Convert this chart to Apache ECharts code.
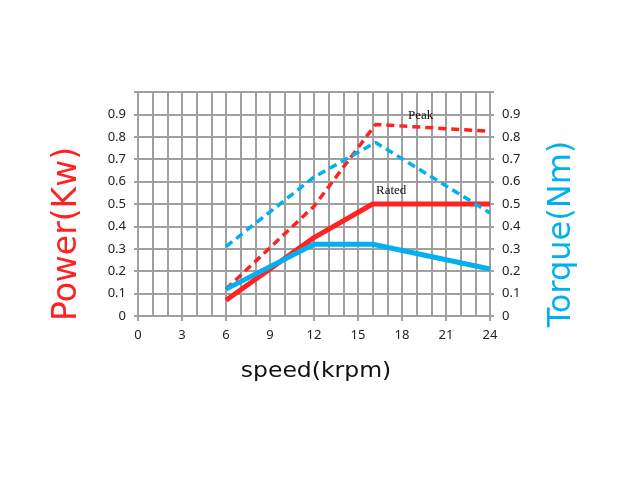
<!DOCTYPE html>
<html>
<head>
<meta charset="utf-8">
<script src="https://cdn.jsdelivr.net/npm/echarts@6/dist/echarts.min.js"></script>
<style>html,body{margin:0;padding:0;background:#fff}#c{width:636px;height:490px}</style>
</head>
<body>
<div id="c"></div>
<script>
const ratedSpeed = [6, 12, 16, 24];
const ratedPower = [0.07, 0.35, 0.50, 0.50];
const ratedTorque = [0.12, 0.32, 0.32, 0.21];
const peakSpeed = [6, 12, 16.2, 24];
const peakPower = [0.12, 0.49, 0.855, 0.825];
const peakTorque = [0.31, 0.62, 0.775, 0.46];
const xTicks = [0, 3, 6, 9, 12, 15, 18, 21, 24];
const yTicks = [0, 0.1, 0.2, 0.3, 0.4, 0.5, 0.6, 0.7, 0.8, 0.9];

const RED = '#ff2222';
const BLUE = '#00b0f0';
const GRID = '#a0a0a0';
const FONT = '"Noto Sans", "DejaVu Sans", sans-serif';
const TFONT = '"DejaVu Sans", sans-serif';
const SERIF = '"Liberation Serif", "DejaVu Serif", serif';

function pairs(xs, ys) { return xs.map((x, i) => [x, ys[i]]); }
function yLabel(v) {
  const r = Math.round(v * 10) / 10;
  return yTicks.indexOf(r) >= 0 ? String(r) : '';
}

const chart = echarts.init(document.getElementById('c'), null, {renderer: 'canvas'});
const yCommon = {
  type: 'value', min: 0, max: 1, interval: 0.1,
  axisLine: {show: true, lineStyle: {color: GRID, width: 2}},
  axisTick: {show: true, inside: false, length: 4, lineStyle: {color: GRID, width: 2}},
  axisLabel: {color: '#222', fontSize: 13, fontFamily: FONT, formatter: yLabel, margin: 12}
};
chart.setOption({
  animation: false,
  backgroundColor: '#fff',
  grid: {left: 138, right: 146, top: 92, bottom: 174, containLabel: false},
  xAxis: {
    type: 'value', min: 0, max: 24, interval: 3,
    axisLine: {show: true, onZero: false, lineStyle: {color: GRID, width: 2}},
    axisTick: {show: true, length: 5, lineStyle: {color: GRID, width: 2}},
    minorTick: {show: false, splitNumber: 3},
    axisLabel: {color: '#222', fontSize: 13, fontFamily: FONT, margin: 13,
      formatter: v => xTicks.indexOf(v) >= 0 ? String(v) : ''},
    splitLine: {show: true, lineStyle: {color: GRID, width: 2}},
    minorSplitLine: {show: true, lineStyle: {color: GRID, width: 2}}
  },
  yAxis: [
    Object.assign({}, yCommon, {
      position: 'left',
      splitLine: {show: true, lineStyle: {color: GRID, width: 2}}
    }),
    Object.assign({}, yCommon, {
      position: 'right',
      splitLine: {show: false}
    })
  ],
  series: [
    {name: 'Rated Power', type: 'line', yAxisIndex: 0, data: pairs(ratedSpeed, ratedPower),
      showSymbol: false, symbol: 'none', lineStyle: {color: RED, width: 5}, z: 3},
    {name: 'Peak Power', type: 'line', yAxisIndex: 0, data: pairs(peakSpeed, peakPower),
      showSymbol: false, symbol: 'none', lineStyle: {color: RED, width: 3.5, type: [8, 5]}, z: 3},
    {name: 'Rated Torque', type: 'line', yAxisIndex: 1, data: pairs(ratedSpeed, ratedTorque),
      showSymbol: false, symbol: 'none', lineStyle: {color: BLUE, width: 5}, z: 4},
    {name: 'Peak Torque', type: 'line', yAxisIndex: 1, data: pairs(peakSpeed, peakTorque),
      showSymbol: false, symbol: 'none', lineStyle: {color: BLUE, width: 3.5, type: [8, 5]}, z: 4}
  ],
  graphic: [
    {type: 'text', x: 67, y: 234, rotation: Math.PI / 2, z: 10,
      style: {text: 'Power(Kw)', fill: RED, fontSize: 33, fontFamily: TFONT,
        align: 'center', verticalAlign: 'middle', textAlign: 'center', textVerticalAlign: 'middle'}},
    {type: 'text', x: 562, y: 234, rotation: Math.PI / 2, z: 10,
      style: {text: 'Torque(Nm)', fill: BLUE, fontSize: 32, fontFamily: TFONT,
        align: 'center', verticalAlign: 'middle', textAlign: 'center', textVerticalAlign: 'middle'}},
    {type: 'text', x: 316, y: 372, scaleX: 1.12, z: 10,
      style: {text: 'speed(krpm)', fill: '#111', fontSize: 21, fontFamily: TFONT,
        align: 'center', verticalAlign: 'middle', textAlign: 'center', textVerticalAlign: 'middle'}},
    {type: 'text', left: 408, top: 109, z: 10,
      style: {text: 'Peak', fill: '#111', fontSize: 13, fontFamily: SERIF}},
    {type: 'text', left: 376, top: 184, z: 10,
      style: {text: 'Rated', fill: '#111', fontSize: 13, fontFamily: SERIF}}
  ]
});
</script>
</body>
</html>
